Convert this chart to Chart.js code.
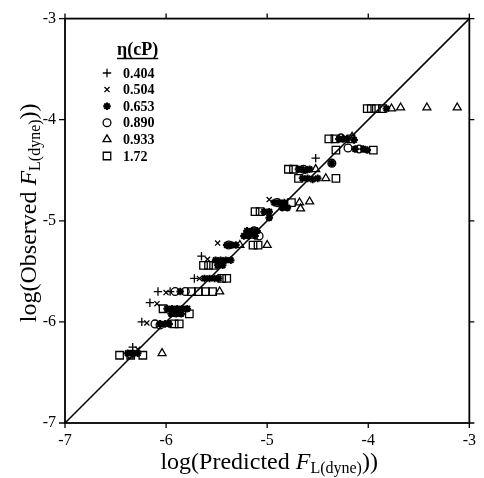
<!DOCTYPE html>
<html>
<head>
<meta charset="utf-8">
<script src="https://cdn.jsdelivr.net/npm/chart.js"></script>
<style>
  body { margin: 0; background: #fff; }
  #wrap { width: 484px; height: 478px; }
</style>
</head>
<body>
<div id="wrap"><canvas id="fitChart" width="484" height="478"></canvas></div>
<script>
// axis range and ticks
const axisMin = -7;
const axisMax = -3;
const tickValues = [-7, -6, -5, -4, -3];
const tickLabels = ['-7', '-6', '-5', '-4', '-3'];

// legend
const legendTitle = 'η(cP)';
const viscosities = ['0.404', '0.504', '0.653', '0.890', '0.933', '1.72'];
const markers = ['cross', 'crossRot', 'star', 'circle', 'triangle', 'rect'];

// perfect agreement line
const diagX = [-7, -3];
const diagY = [-7, -3];

// [log predicted, log observed] per viscosity
const eta0404 = [
    [-4.52, -4.38], [-5.65, -5.35], [-5.72, -5.57], [-6.08, -5.70], [-5.96, -5.70],
    [-6.16, -5.81], [-6.24, -6.00], [-6.33, -6.25]
];
const eta0504 = [
    [-4.98, -4.79], [-5.49, -5.22], [-5.59, -5.38], [-5.67, -5.57], [-6.00, -5.71],
    [-6.09, -5.82], [-6.19, -6.01], [-6.28, -6.27]
];
const eta0653 = [
    [-3.82, -3.89],
    [-4.29, -4.19], [-4.25, -4.19], [-4.21, -4.19], [-4.14, -4.20],
    [-4.13, -4.29], [-4.05, -4.29], [-4.01, -4.30], [-4.36, -4.43],
    [-4.69, -4.49], [-4.66, -4.49], [-4.62, -4.50], [-4.58, -4.49],
    [-4.65, -4.58], [-4.60, -4.58], [-4.55, -4.59], [-4.50, -4.58],
    [-4.93, -4.82], [-4.88, -4.82], [-4.83, -4.82], [-4.85, -4.87], [-4.80, -4.87],
    [-5.03, -4.91], [-4.98, -4.91], [-4.98, -4.97],
    [-5.20, -5.10], [-5.15, -5.10], [-5.10, -5.10],
    [-5.23, -5.15], [-5.18, -5.15], [-5.12, -5.15],
    [-5.40, -5.24], [-5.35, -5.24], [-5.31, -5.24],
    [-5.51, -5.39], [-5.46, -5.39], [-5.41, -5.39], [-5.36, -5.39],
    [-5.49, -5.44], [-5.44, -5.44],
    [-5.62, -5.57], [-5.57, -5.57], [-5.52, -5.57], [-5.48, -5.57],
    [-5.86, -5.70],
    [-5.99, -5.87], [-5.94, -5.87], [-5.89, -5.87], [-5.84, -5.87], [-5.79, -5.87],
    [-5.95, -5.92], [-5.90, -5.92], [-5.85, -5.92],
    [-6.06, -6.02], [-6.01, -6.02], [-5.97, -6.02],
    [-6.38, -6.31], [-6.33, -6.31], [-6.28, -6.31]
];
const eta0890 = [
    [-4.27, -4.18], [-4.20, -4.28], [-4.09, -4.29], [-4.36, -4.43], [-4.64, -4.49],
    [-4.90, -4.82], [-5.13, -5.10], [-5.08, -5.15], [-5.38, -5.24],
    [-5.91, -5.70], [-5.81, -5.70], [-6.11, -6.02], [-6.06, -6.03], [-6.35, -6.32]
];
const eta0933 = [
    [-3.77, -3.89], [-3.68, -3.88], [-3.42, -3.88], [-3.12, -3.88],
    [-4.16, -4.17], [-4.52, -4.49], [-4.42, -4.58],
    [-4.68, -4.82], [-4.58, -4.81], [-4.67, -4.88],
    [-5.27, -5.24], [-5.00, -5.24], [-5.47, -5.70], [-6.04, -6.31]
];
const eta172 = [
    [-4.01, -3.89], [-3.97, -3.89], [-3.92, -3.89], [-3.86, -3.89],
    [-4.39, -4.19], [-4.33, -4.19], [-4.17, -4.19],
    [-4.32, -4.30], [-3.95, -4.30],
    [-4.79, -4.49], [-4.74, -4.49],
    [-4.69, -4.58], [-4.32, -4.58],
    [-4.76, -4.82], [-5.12, -4.91], [-5.07, -4.91],
    [-5.14, -5.24], [-5.09, -5.24],
    [-5.63, -5.44], [-5.58, -5.44], [-5.53, -5.44],
    [-5.45, -5.57], [-5.40, -5.57],
    [-5.75, -5.70], [-5.68, -5.70], [-5.61, -5.70], [-5.54, -5.70],
    [-6.03, -5.87], [-5.77, -5.92],
    [-5.92, -6.02], [-5.87, -6.02],
    [-6.46, -6.33], [-6.35, -6.33], [-6.23, -6.33]
];
const seriesData = [eta0404, eta0504, eta0653, eta0890, eta0933, eta172];

// axis titles: [text, kind]
const xTitleParts = [['log(Predicted ', 'n'], ['F', 'i'], ['L(dyne)', 's'], ['))', 'n']];
const yTitleParts = [['log(Observed ', 'n'], ['F', 'i'], ['L(dyne)', 's'], ['))', 'n']];

const serif = '"Liberation Serif", "DejaVu Serif", serif';

// marker size and stroke for each shape
const markerRadius = { cross: 4.2, crossRot: 3.6, star: 3.8, circle: 3.9, triangle: 4.6, rect: 5.3 };
const markerWidth = { cross: 1.3, crossRot: 1.3, star: 2.0, circle: 1.3, triangle: 1.3, rect: 1.3 };

function partFont(kind) {
    if (kind == 'i') return 'italic 24px ' + serif;
    if (kind == 's') return '16px ' + serif;
    return '24px ' + serif;
}

function drawTitle(ctx, parts, cx, baseline) {
    let total = 0;
    for (let [text, kind] of parts) {
        ctx.font = partFont(kind);
        total += ctx.measureText(text).width;
    }
    let x = cx - total / 2;
    ctx.textAlign = 'left';
    ctx.textBaseline = 'alphabetic';
    for (let [text, kind] of parts) {
        ctx.font = partFont(kind);
        ctx.fillText(text, x, kind == 's' ? baseline + 4 : baseline);
        x += ctx.measureText(text).width;
    }
}

const framePlugin = {
    id: 'frame',
    afterDraw(chart) {
        const ctx = chart.ctx;
        const area = chart.chartArea;
        const xs = chart.scales.x;
        const ys = chart.scales.y;
        ctx.save();
        ctx.strokeStyle = '#000';
        ctx.fillStyle = '#000';
        ctx.lineWidth = 1.8;
        ctx.strokeRect(area.left, area.top, area.right - area.left, area.bottom - area.top);

        // outward tick marks on all four sides
        ctx.lineWidth = 1.3;
        ctx.beginPath();
        for (let v of tickValues) {
            let px = xs.getPixelForValue(v);
            let py = ys.getPixelForValue(v);
            ctx.moveTo(px, area.bottom); ctx.lineTo(px, area.bottom + 5);
            ctx.moveTo(px, area.top); ctx.lineTo(px, area.top - 5);
            ctx.moveTo(area.left, py); ctx.lineTo(area.left - 6, py);
            ctx.moveTo(area.right, py); ctx.lineTo(area.right + 5, py);
        }
        ctx.stroke();

        // axis titles
        drawTitle(ctx, xTitleParts, (area.left + area.right) / 2 + 2, 469);
        ctx.save();
        ctx.translate(36, (area.top + area.bottom) / 2 - 8);
        ctx.rotate(-Math.PI / 2);
        drawTitle(ctx, yTitleParts, 0, 0);
        ctx.restore();

        // legend inside the plot
        ctx.font = 'bold 18px ' + serif;
        ctx.textAlign = 'left';
        ctx.textBaseline = 'alphabetic';
        ctx.fillText(legendTitle, area.left + 52, 55);
        let tw = ctx.measureText(legendTitle).width;
        ctx.lineWidth = 1.3;
        ctx.beginPath();
        ctx.moveTo(area.left + 52, 58.5);
        ctx.lineTo(area.left + 52 + tw, 58.5);
        ctx.stroke();

        ctx.font = 'bold 14px ' + serif;
        ctx.textBaseline = 'middle';
        viscosities.forEach((label, i) => {
            let y = 73 + i * 16.6;
            let style = markers[i];
            ctx.fillStyle = 'rgba(0,0,0,0)';
            ctx.lineWidth = markerWidth[style];
            Chart.helpers.drawPoint(ctx, { pointStyle: style, radius: markerRadius[style], rotation: 0, borderWidth: markerWidth[style] }, area.left + 42, y);
            ctx.fillStyle = '#000';
            ctx.fillText(label, area.left + 58, y + 1);
        });
        ctx.restore();
    }
};

const datasets = seriesData.map((points, i) => ({
    type: 'scatter',
    label: viscosities[i],
    data: points.map(p => ({ x: p[0], y: p[1] })),
    pointStyle: markers[i],
    pointRadius: markerRadius[markers[i]],
    pointBorderWidth: markerWidth[markers[i]],
    borderColor: '#000',
    backgroundColor: 'rgba(0,0,0,0)'
}));

datasets.unshift({
    type: 'line',
    label: 'diagonal',
    data: diagX.map((x, i) => ({ x: x, y: diagY[i] })),
    borderColor: '#000',
    borderWidth: 1.5,
    pointRadius: 0,
    fill: false
});

function fixedTicks(scale) {
    scale.ticks = tickValues.map(v => ({ value: v }));
}

new Chart(document.getElementById('fitChart'), {
    data: { datasets: datasets },
    options: {
        responsive: false,
        animation: false,
        layout: { padding: { top: 14, right: 13, left: 0, bottom: 0 } },
        plugins: {
            legend: { display: false },
            tooltip: { enabled: false }
        },
        scales: {
            x: {
                type: 'linear',
                min: axisMin,
                max: axisMax,
                grid: { display: false, drawTicks: false, tickLength: 0 },
                border: { display: false },
                afterBuildTicks: fixedTicks,
                afterFit: (scale) => { scale.height = 55; },
                ticks: {
                    padding: 8,
                    color: '#000',
                    font: { family: serif, size: 16 },
                    callback: (v) => tickLabels[tickValues.indexOf(v)]
                }
            },
            y: {
                type: 'linear',
                min: axisMin,
                max: axisMax,
                grid: { display: false, drawTicks: false, tickLength: 0 },
                border: { display: false },
                afterBuildTicks: fixedTicks,
                afterFit: (scale) => { scale.width = 65; },
                ticks: {
                    padding: 9,
                    color: '#000',
                    font: { family: serif, size: 16 },
                    callback: (v) => tickLabels[tickValues.indexOf(v)]
                }
            }
        }
    },
    plugins: [framePlugin]
});
</script>
</body>
</html>
